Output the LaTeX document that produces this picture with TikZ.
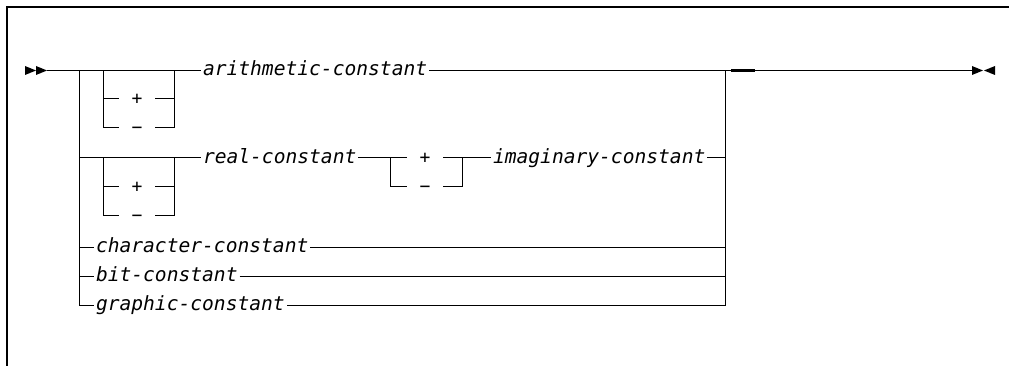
\documentclass[tikz,border=0pt]{standalone}
\usepackage{fontspec}
\newfontfamily\railfont{DejaVu Sans Mono}
\usetikzlibrary{calc}

\begin{document}
\begin{tikzpicture}[
    x=1pt, y=-1pt,
    every node/.style={inner sep=0pt},
    rail/.style={line width=1pt},
    frame/.style={line width=1.4pt},
    term/.style={font=\railfont\itshape\fontsize{19.6}{22}\selectfont, inner xsep=1.8pt, inner ysep=0pt,
        text height=11pt, text depth=0pt, anchor=west},
    sign/.style={font=\railfont\fontsize{18}{20}\selectfont, minimum width=36pt,
        text height=10.8pt, text depth=0pt, anchor=center},
    tip/.style={fill=black, draw=none}
]
\useasboundingbox (0,0) rectangle (1009,366);

% outer frame
\draw[frame] (7,366) -- (7,7) -- (1009,7);

% start and end marks
\fill[tip] (25,66) -- (36,70.5) -- (25,75) -- cycle;
\fill[tip] (36,66) -- (47,70.5) -- (36,75) -- cycle;
\fill[tip] (972,66) -- (983,70.5) -- (972,75) -- cycle;
\fill[tip] (995,66) -- (984,70.5) -- (995,75) -- cycle;

\coordinate (start) at (47,70.5);
\coordinate (split) at (79,70.5);
\coordinate (join) at (725,70.5);
\coordinate (stop) at (972,70.5);

% alternatives
\node[term] (arith) at (201,70.5) {arithmetic-constant};
\node[term] (real) at (201,158) {real-constant};
\node[term] (imag) at (491,158) {imaginary-constant};
\node[term] (char) at (94,247) {character-constant};
\node[term] (bit) at (94,276) {bit-constant};
\node[term] (graph) at (94,305) {graphic-constant};

% optional signs
\node[sign] (pa) at (137,99) {+};
\node[sign] (ma) at (137,128) {−};
\node[sign] (pr) at (137,187) {+};
\node[sign] (mr) at (137,216) {−};
\node[sign] (pi) at (425,158) {+};
\node[sign] (mi) at (425,187) {−};

% main line
\draw[rail] (start) -- (split) -- (arith.west);
\draw[rail] (arith.east) -- (join) -- (stop);
\draw[line width=2.6pt] (731,70.5) -- (755,70.5);

% branch rails
\draw[rail] (split) |- (graph.west);
\draw[rail] (split |- real.west) -- (real.west);
\draw[rail] (split |- char.west) -- (char.west);
\draw[rail] (split |- bit.west) -- (bit.west);

% collector rails
\draw[rail] (join) |- (graph.east);
\draw[rail] (imag.east) -- (join |- imag.east);
\draw[rail] (char.east) -- (join |- char.east);
\draw[rail] (bit.east) -- (join |- bit.east);

% sign boxes before arithmetic and real
\draw[rail] (103,70.5) |- (ma.west);
\draw[rail] (103,99) -- (pa.west);
\draw[rail] (174,70.5) |- (ma.east);
\draw[rail] (174,99) -- (pa.east);

\draw[rail] (103,158) |- (mr.west);
\draw[rail] (103,187) -- (pr.west);
\draw[rail] (174,158) |- (mr.east);
\draw[rail] (174,187) -- (pr.east);

% sign box before imaginary
\draw[rail] (real.east) -- (pi.west);
\draw[rail] (pi.east) -- (imag.west);
\draw[rail] (390,158) |- (mi.west);
\draw[rail] (462,158) |- (mi.east);

\end{tikzpicture}
\end{document}
